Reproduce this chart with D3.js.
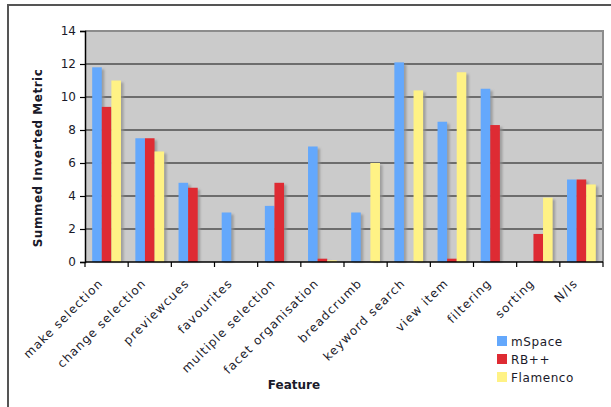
<!DOCTYPE html>
<html>
<head>
<meta charset="utf-8">
<script src="https://cdn.jsdelivr.net/npm/d3@7/dist/d3.min.js"></script>
<style>
  html, body { margin: 0; padding: 0; background: #fff; }
  svg { display: block; }
  text { font-family: "DejaVu Sans", Verdana, sans-serif; fill: #1a1a2a; }
</style>
</head>
<body>
<svg id="chart" width="611" height="407"></svg>
<script>
// Feature categories and per-browser summed inverted metric
const features = ["make selection", "change selection", "previewcues", "favourites",
  "multiple selection", "facet organisation", "breadcrumb", "keyword search",
  "view item", "filtering", "sorting", "N/Is"];
const mSpace   = [11.8, 7.5, 4.8, 3.0, 3.4, 7.0, 3.0, 12.1, 8.5, 10.5, 0, 5.0];
const rbpp     = [9.4, 7.5, 4.5, 0, 4.8, 0.2, 0, 0, 0.2, 8.3, 1.7, 5.0];
const flamenco = [11.0, 6.7, 0, 0, 0, 0.1, 6.0, 10.4, 11.5, 0, 3.9, 4.7];
const seriesNames = ["mSpace", "RB++", "Flamenco"];
const seriesColors = ["#64a8fc", "#de2b33", "#fff285"];
const yTicks = [0, 2, 4, 6, 8, 10, 12, 14];

const series = [mSpace, rbpp, flamenco];
const svg = d3.select("#chart");

const plot = { left: 85, top: 31, right: 603, bottom: 262 };

const x = d3.scaleBand().domain(features).range([plot.left, plot.right]).paddingInner(0).paddingOuter(0);
const xInner = d3.scaleBand().domain(d3.range(series.length))
  .range([0, x.bandwidth()]).paddingInner(0).paddingOuter(0.75);
const y = d3.scaleLinear().domain([0, 14]).range([plot.bottom, plot.top]);

// outer chart frame (left and top edges visible)
svg.append("path")
  .attr("d", `M8,407 L8,5 L611,5`)
  .attr("fill", "none").attr("stroke", "#555").attr("stroke-width", 2);

// plot background
svg.append("rect")
  .attr("x", plot.left).attr("y", plot.top)
  .attr("width", plot.right - plot.left).attr("height", plot.bottom - plot.top)
  .attr("fill", "#cbcbcb");

// horizontal gridlines
svg.append("g").selectAll("line")
  .data(yTicks.filter(t => t > 0 && t < 14))
  .join("line")
  .attr("x1", plot.left).attr("x2", plot.right)
  .attr("y1", d => y(d)).attr("y2", d => y(d))
  .attr("stroke", "#111").attr("stroke-width", 1.2);

// plot border on top and right
svg.append("path")
  .attr("d", `M${plot.left},${plot.top} L${plot.right},${plot.top} L${plot.right},${plot.bottom}`)
  .attr("fill", "none").attr("stroke", "#8c8c8c").attr("stroke-width", 2);

// bar shadows
const defs = svg.append("defs");
defs.append("filter").attr("id", "soft").attr("x", "-50%").attr("y", "-10%").attr("width", "200%").attr("height", "120%")
  .append("feGaussianBlur").attr("stdDeviation", 0.8);

const rows = [];
features.forEach((f, i) => series.forEach((s, k) => {
  if (s[i] > 0) rows.push({ f, k, v: s[i] });
}));

svg.append("g").attr("filter", "url(#soft)").selectAll("rect")
  .data(rows).join("rect")
  .attr("x", d => x(d.f) + xInner(d.k) + 2.5)
  .attr("y", d => y(d.v) + 2)
  .attr("width", xInner.bandwidth())
  .attr("height", d => Math.max(0, y(0) - y(d.v) - 2))
  .attr("fill", "#8f8f8f").attr("opacity", 0.75);

// bars
svg.append("g").selectAll("rect")
  .data(rows).join("rect")
  .attr("x", d => x(d.f) + xInner(d.k))
  .attr("y", d => y(d.v))
  .attr("width", xInner.bandwidth())
  .attr("height", d => y(0) - y(d.v))
  .attr("fill", d => seriesColors[d.k]);

// y axis
const yAxis = svg.append("g")
  .attr("transform", `translate(${plot.left},0)`)
  .call(d3.axisLeft(y).tickValues(yTicks).tickSize(5).tickPadding(4));
yAxis.select(".domain").attr("stroke", "#000").attr("stroke-width", 1.5);
yAxis.selectAll(".tick line").attr("stroke", "#000").attr("stroke-width", 1.2);
yAxis.selectAll(".tick text")
  .style("font-family", "DejaVu Sans, Verdana, sans-serif")
  .style("font-size", "12px").attr("fill", "#1a1a2a");

// x axis: tick marks at category boundaries
const bounds = features.map(f => x(f)).concat([plot.right]);
svg.append("line")
  .attr("x1", plot.left).attr("x2", plot.right)
  .attr("y1", plot.bottom).attr("y2", plot.bottom)
  .attr("stroke", "#000").attr("stroke-width", 1.5);
svg.append("g").selectAll("line")
  .data(bounds).join("line")
  .attr("x1", d => d).attr("x2", d => d)
  .attr("y1", plot.bottom).attr("y2", plot.bottom + 5)
  .attr("stroke", "#000").attr("stroke-width", 1.2);

// rotated category labels
svg.append("g").selectAll("text")
  .data(features).join("text")
  .attr("transform", d => `translate(${x(d) + x.bandwidth() / 2 - 9},278) rotate(-45)`)
  .attr("text-anchor", "end")
  .attr("dy", "0.71em")
  .style("font-size", "12px")
  .style("letter-spacing", "1.1px")
  .text(d => d);

// axis titles
svg.append("text")
  .attr("transform", `translate(42,158) rotate(-90)`)
  .attr("text-anchor", "middle")
  .style("font-size", "12px").style("font-weight", "bold")
  .style("letter-spacing", "0.5px")
  .text("Summed Inverted Metric");

svg.append("text")
  .attr("x", 294).attr("y", 389)
  .attr("text-anchor", "middle")
  .style("font-size", "12px").style("font-weight", "bold")
  .text("Feature");

// legend
const legend = svg.append("g").attr("transform", "translate(497,336)");
seriesNames.forEach((name, k) => {
  const g = legend.append("g").attr("transform", `translate(0,${k * 18})`);
  g.append("rect").attr("width", 10).attr("height", 10).attr("fill", seriesColors[k]);
  g.append("text").attr("x", 14).attr("y", 10)
    .style("font-size", "12px").style("letter-spacing", "0.6px").text(name);
});
</script>
</body>
</html>
